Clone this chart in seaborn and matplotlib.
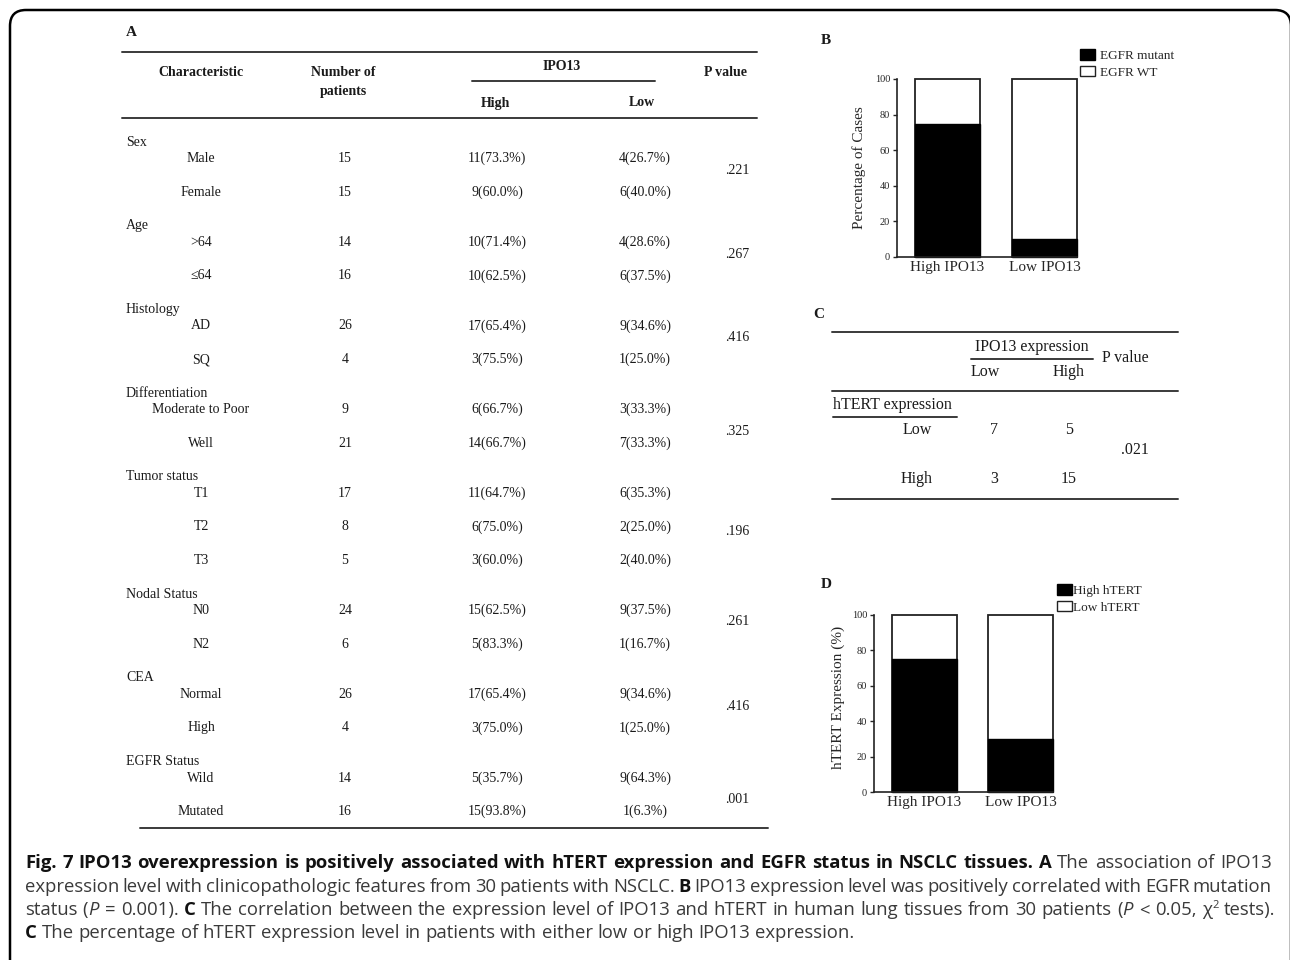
import numpy as np
import pandas as pd
import seaborn as sns
import matplotlib
matplotlib.use("Agg")
import matplotlib.pyplot as plt
from matplotlib.lines import Line2D
from matplotlib.patches import Patch, FancyBboxPatch
from matplotlib.transforms import IdentityTransform

# ---------------- data ----------------
# Panel A table
groups = ["Sex", "Age", "Histology", "Differentiation", "Tumor status",
          "Nodal Status", "CEA", "EGFR Status"]
subgroups = [["Male", "Female"], [">64", "\u226464"], ["AD", "SQ"],
             ["Moderate to Poor", "Well"], ["T1", "T2", "T3"], ["N0", "N2"],
             ["Normal", "High"], ["Wild", "Mutated"]]
n_patients = [[15, 15], [14, 16], [26, 4], [9, 21], [17, 8, 5], [24, 6], [26, 4], [14, 16]]
high_n = [[11, 9], [10, 10], [17, 3], [6, 14], [11, 6, 3], [15, 5], [17, 3], [5, 15]]
high_pct = [[73.3, 60.0], [71.4, 62.5], [65.4, 75.5], [66.7, 66.7], [64.7, 75.0, 60.0],
            [62.5, 83.3], [65.4, 75.0], [35.7, 93.8]]
low_n = [[4, 6], [4, 6], [9, 1], [3, 7], [6, 2, 2], [9, 1], [9, 1], [9, 1]]
low_pct = [[26.7, 40.0], [28.6, 37.5], [34.6, 25.0], [33.3, 33.3], [35.3, 25.0, 40.0],
           [37.5, 16.7], [34.6, 25.0], [64.3, 6.3]]
p_values = [".221", ".267", ".416", ".325", ".196", ".261", ".416", ".001"]

# Panel B
b_groups = ["High IPO13", "Low IPO13"]
b_mutant = [75, 10]
b_wt = [25, 90]
b_legend = ["EGFR mutant", "EGFR WT"]

# Panel C
c_rows = ["Low", "High"]
c_cols = ["Low", "High"]
c_counts = [[7, 5], [3, 15]]
c_p = ".021"

# Panel D
d_groups = ["High IPO13", "Low IPO13"]
d_high = [75, 30]
d_low = [25, 70]
d_legend = ["High hTERT", "Low hTERT"]

yticks = [0, 20, 40, 60, 80, 100]

# ---------------- layout helpers ----------------
W, H = 1290, 960
sns.set_style("ticks")
SERIF = ["Liberation Serif", "DejaVu Serif"]
SANS = ["Open Sans", "DejaVu Sans"]
plt.rcParams["font.family"] = SERIF

fig = plt.figure(figsize=(W / 100, H / 100), dpi=100)
fig.patch.set_facecolor("white")


def fx(x):
    return x / W


def fy(y):
    return 1 - y / H


def txt(x, y, s, **kw):
    kw.setdefault("family", SERIF)
    kw.setdefault("va", "center")
    kw.setdefault("ha", "center")
    kw.setdefault("color", "#1a1a1a")
    return fig.text(fx(x), fy(y), s, **kw)


def hline(x0, x1, y, lw=1.4, color="#3a3a3a"):
    fig.add_artist(Line2D([fx(x0), fx(x1)], [fy(y), fy(y)],
                          transform=fig.transFigure, lw=lw, color=color))


# outer rounded frame (only top and left edges visible)
frame = FancyBboxPatch((10, -60), 1281, 950 + 60, boxstyle="round,pad=0,rounding_size=16",
                       transform=IdentityTransform(), fill=False, lw=1.8, ec="black")
fig.add_artist(frame)

# ---------------- Panel A : table ----------------
FS_A = 10
txt(131, 33, "A", fontsize=11, weight="bold")
hline(122, 757, 52)
hline(472, 655, 81)
hline(122, 757, 118)
txt(201, 73, "Characteristic", fontsize=FS_A, weight="bold")
txt(343, 73, "Number of", fontsize=FS_A, weight="bold")
txt(343, 91, "patients", fontsize=FS_A, weight="bold")
txt(562, 66, "IPO13", fontsize=FS_A, weight="bold")
txt(495, 103, "High", fontsize=FS_A, weight="bold")
txt(642, 103, "Low", fontsize=FS_A, weight="bold")
txt(725, 73, "P value", fontsize=FS_A, weight="bold")

x_char, x_num, x_high, x_low, x_p = 201, 345, 497, 645, 737
pitch, sub_off = 33.6, 16.5
p_offsets = [-5, -5, -5, 5, 5, -6, -5, 5]
y = 142
for gi, g in enumerate(groups):
    txt(126, y, g, fontsize=FS_A, ha="left")
    ys = []
    yy = y + sub_off
    for si, sg in enumerate(subgroups[gi]):
        txt(x_char, yy, sg, fontsize=FS_A)
        txt(x_num, yy, str(n_patients[gi][si]), fontsize=FS_A)
        txt(x_high, yy, f"{high_n[gi][si]}({high_pct[gi][si]:.1f}%)", fontsize=FS_A)
        txt(x_low, yy, f"{low_n[gi][si]}({low_pct[gi][si]:.1f}%)", fontsize=FS_A)
        ys.append(yy)
        yy += pitch
    txt(x_p, np.mean(ys) + p_offsets[gi], p_values[gi], fontsize=FS_A)
    y = ys[-1] + pitch
hline(140, 768, 828)


# ---------------- Panels B and D : stacked bars ----------------
def stacked(ax_rect, cats, bottom_vals, top_vals, ylabel, label_xy, legend_labels,
            legend_xy, textpad):
    ax = fig.add_axes(ax_rect)
    totals = list(np.add(bottom_vals, top_vals))
    sns.barplot(x=cats, y=totals, color="white", edgecolor="#222222", linewidth=1.3,
                width=0.67, saturation=1, ax=ax, clip_on=False)
    sns.barplot(x=cats, y=bottom_vals, color="black", edgecolor="black", linewidth=1.0,
                width=0.67, saturation=1, ax=ax, clip_on=False)
    ax.set_ylim(0, 100)
    ax.set_xlim(-0.52, 1.335)
    ax.set_yticks(yticks)
    ax.set_yticklabels([str(t) for t in yticks], fontsize=7.5, family=SERIF)
    ax.tick_params(axis="y", length=3, width=1, pad=2)
    ax.tick_params(axis="x", length=0, pad=3)
    for lab in ax.get_xticklabels():
        lab.set_fontsize(11)
        lab.set_family(SERIF)
    ax.set_xlabel("")
    ax.set_ylabel(ylabel, fontsize=11, family=SERIF)
    ax.yaxis.set_label_coords(*label_xy)
    sns.despine(ax=ax)
    for s in ["left", "bottom"]:
        ax.spines[s].set_linewidth(1.2)
        ax.spines[s].set_color("#222222")
    handles = [Patch(facecolor="black", edgecolor="black"),
               Patch(facecolor="white", edgecolor="#222222")]
    fig.legend(handles, legend_labels, loc="upper left",
               bbox_to_anchor=(fx(legend_xy[0]), fy(legend_xy[1])),
               frameon=False, borderpad=0, borderaxespad=0,
               handlelength=1.15, handleheight=0.85, handletextpad=textpad,
               labelspacing=0.3, prop={"family": SERIF, "size": 9.5})
    return ax


txt(826, 41, "B", fontsize=11, weight="bold")
stacked([fx(897), fy(257), 180 / W, 178 / H], b_groups, b_mutant, b_wt,
        "Percentage of Cases", (-0.172, 0.5), b_legend, (1080, 49), 0.35)

txt(826, 585, "D", fontsize=11, weight="bold")
stacked([fx(874), fy(792), 179 / W, 177 / H], d_groups, d_high, d_low,
        "hTERT Expression (%)", (-0.162, 0.537), d_legend, (1057, 584), 0.1)

# ---------------- Panel C : contingency table ----------------
FS_C = 11.5
txt(819, 315, "C", fontsize=11, weight="bold")
hline(832, 1178, 332)
hline(971, 1093, 359)
hline(832, 1178, 391)
hline(833, 957, 417)
hline(832, 1178, 499)
txt(1032, 347, "IPO13 expression", fontsize=FS_C)
txt(1125, 358, "P value", fontsize=FS_C)
col_x = [985, 1069]
for ci, c in enumerate(c_cols):
    txt(col_x[ci], 372, c, fontsize=FS_C)
txt(833, 405, "hTERT expression", fontsize=FS_C, ha="left")
row_y = [430, 479]
val_x = [994, 1069]
for ri, r in enumerate(c_rows):
    txt(917, row_y[ri], r, fontsize=FS_C)
    for ci in range(len(c_cols)):
        txt(val_x[ci], row_y[ri], str(c_counts[ri][ci]), fontsize=FS_C)
txt(1135, 450, c_p, fontsize=FS_C)

# ---------------- caption ----------------
caption_lines = [
    [("Fig. 7 IPO13 overexpression is positively associated with hTERT expression and EGFR status in NSCLC tissues. A", "b"),
     (" The association of IPO13", "r")],
    [("expression level with clinicopathologic features from 30 patients with NSCLC. ", "r"),
     ("B", "b"),
     (" IPO13 expression level was positively correlated with EGFR mutation", "r")],
    [("status (", "r"), ("P", "i"), (" = 0.001). ", "r"), ("C", "b"),
     (" The correlation between the expression level of IPO13 and hTERT in human lung tissues from 30 patients (", "r"),
     ("P", "i"), (" < 0.05, \u03c7", "r"), ("2", "sup"), (" tests).", "r")],
    [("C", "b"),
     (" The percentage of hTERT expression level in patients with either low or high IPO13 expression.", "r")],
]
cap_baselines = [868, 891.5, 915, 938.5]
CAP_FS = 13.3
cap_x0, cap_x1 = 25, 1272
renderer = fig.canvas.get_renderer()


def style_kw(st):
    kw = dict(family=SANS, fontsize=CAP_FS, color="#3a3a3a", va="baseline", ha="left")
    if st == "b":
        kw.update(weight="bold", color="#111111")
    elif st == "i":
        kw.update(style="italic")
    elif st == "sup":
        kw.update(fontsize=CAP_FS * 0.6)
    return kw


def measure(s, st):
    t = fig.text(0, 0, s, **style_kw(st))
    w = t.get_window_extent(renderer).width
    t.remove()
    return w


space_w = measure("a a", "r") - measure("aa", "r")

for li, segs in enumerate(caption_lines):
    words = [[]]
    for text, st in segs:
        parts = text.split(" ")
        for i, p in enumerate(parts):
            if i > 0:
                words.append([])
            if p:
                words[-1].append((p, st))
    words = [w for w in words if w]
    widths = [[measure(p, st) for p, st in w] for w in words]
    total = sum(sum(ws) for ws in widths)
    last = li == len(caption_lines) - 1
    gap = space_w if last else (cap_x1 - cap_x0 - total) / (len(words) - 1)
    x = cap_x0
    yb = cap_baselines[li]
    for w, ws in zip(words, widths):
        for (p, st), pw in zip(w, ws):
            yoff = -7 if st == "sup" else 0
            fig.text(fx(x), fy(yb + yoff), p, **style_kw(st))
            x += pw + (1.5 if st == "i" else 0)
        x += gap

fig.savefig("out.png", dpi=100, facecolor="white")
